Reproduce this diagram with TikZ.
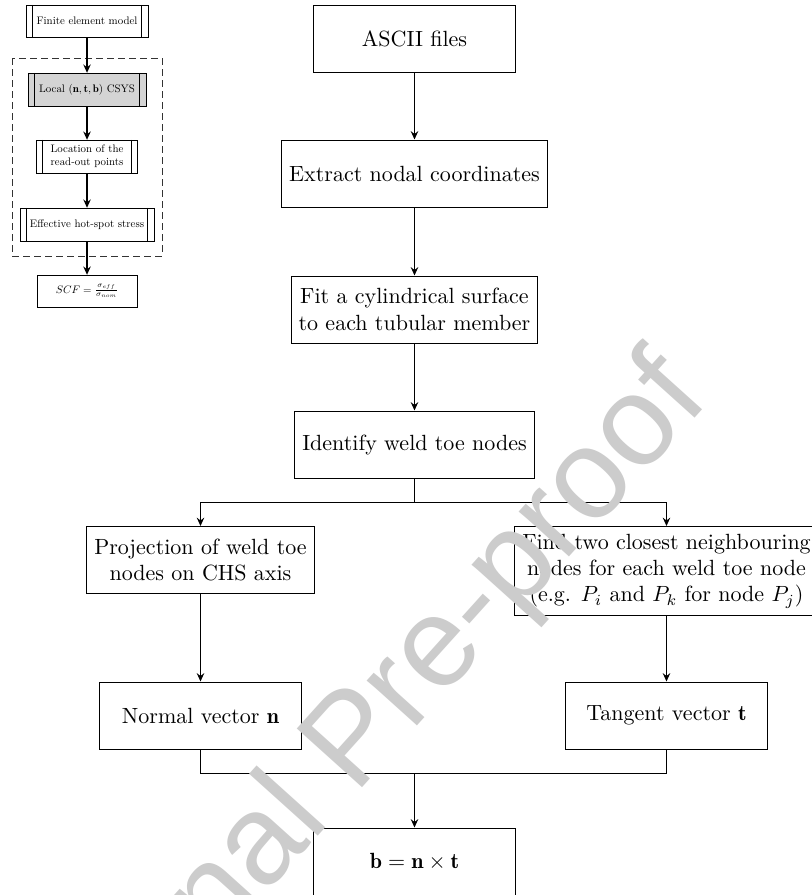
\documentclass[tikz,border=0pt]{standalone}
\usepackage{fontspec}
\newfontfamily\wmfont{Liberation Sans}
\usetikzlibrary{arrows.meta,calc}
\newlength\pxu \setlength\pxu{0.4545pt}
\newlength\pxs \setlength\pxs{0.9182pt}
% two inner vertical bars of a "predefined process" box
\newcommand\sidebars[1]{%
  \draw[line width=0.4pt] ([xshift=2.95pt]#1.north west) -- ([xshift=2.95pt]#1.south west)
                          ([xshift=-2.95pt]#1.north east) -- ([xshift=-2.95pt]#1.south east);}
\begin{document}
\begin{tikzpicture}[x=\pxu, y=-\pxu,
  box/.style={draw, line width=0.45pt, align=center, minimum width=202\pxu,
              minimum height=67\pxu, inner sep=3.33pt},
  sbox/.style={draw, line width=0.4pt, align=center, inner sep=2pt},
  link/.style={line width=0.8pt},
  arr/.style={link, -{Stealth[length=3.8pt,width=3.4pt,inset=1.3pt]}},
  wm/.style={font=\wmfont\fontsize{58pt}{68pt}\selectfont, text=black!20,
             inner sep=0pt}]
\useasboundingbox (0,0) rectangle (812,895);
\fill[white] (0,0) rectangle (812,895);
\clip (0,0) rectangle (812,895);

% ---- small overview chart (scaled) ----
\begin{scope}[scale=0.495, transform shape]
  \node[sbox, minimum width=122\pxs, minimum height=32\pxs] (fem) at (175.8,42.4) {Finite element model};
  \node[sbox, fill=black!17, minimum width=118\pxs, minimum height=33\pxs] (local) at (175.8,180.8)
       {Local $(\mathbf{n},\mathbf{t},\mathbf{b})$ CSYS};
  \node[sbox, minimum width=101\pxs, minimum height=33\pxs] (readout) at (175.8,316.2)
       {Location of the\\read-out points};
  \node[sbox, minimum width=134\pxs, minimum height=33\pxs] (hotspot) at (175.8,453.5)
       {Effective hot-spot stress};
  \node[sbox, minimum width=100\pxs, minimum height=32\pxs] (scf) at (175.8,587.9)
       {$SCF=\frac{\sigma_{eff}}{\sigma_{nom}}$};
\end{scope}
\sidebars{fem}
\sidebars{local}
\sidebars{readout}
\sidebars{hotspot}
\draw[line width=0.45pt, black!80, dash pattern=on 3pt off 2pt] (12,58) rectangle (162,256);
\draw[arr] (fem) -- (local);
\draw[arr] (local) -- (readout);
\draw[arr] (readout) -- (hotspot);
\draw[arr] (hotspot) -- (scf);

% ---- main flowchart ----
\node[box] (ascii) at (414.5,38.5) {ASCII files};
\node[box] (extract) at (414.5,173.5) {Extract nodal coordinates};
\node[box] (fitcyl) at (414.5,309.5) {Fit a cylindrical surface\\to each tubular member};
\node[box] (ident) at (414.5,444.5) {Identify weld toe nodes};
\node[box, anchor=north] (proj) at (200.5,526) {Projection of weld toe\\nodes on CHS axis};
\node[box, anchor=north] (find) at (666.5,526)
     {Find two closest neighbouring\\nodes for each weld toe node\\(e.g. $P_i$ and $P_k$ for node $P_j$)};
\node[box] (normal) at (200.5,715.5) {Normal vector $\mathbf{n}$};
\node[box] (tangent) at (666.5,715.5) {Tangent vector $\mathbf{t}$};
\node[box] (cross) at (414.5,861.5) {$\mathbf{b}=\mathbf{n}\times\mathbf{t}$};

\draw[arr] (ascii) -- (extract);
\draw[arr] (extract) -- (fitcyl);
\draw[arr] (fitcyl) -- (ident);

\path (ident.south) ++(0,24) coordinate (split);
\draw[link] (ident.south) -- (split);
\draw[arr] (split) -| (proj.north);
\draw[arr] (split) -| (find.north);

\draw[arr] (proj) -- (normal);
\draw[arr] (find) -- (tangent);

\path (normal.south) ++(0,24) coordinate (mergeL);
\draw[link] (normal.south) -- (mergeL) -| (tangent.south);
\draw[arr] (mergeL -| cross.north) -- (cross.north);

% ---- watermark ----
\node[wm, rotate=48, anchor=base west] (stamp) at (51.1,1133) {Journal Pre-proof};
\end{tikzpicture}
\end{document}
